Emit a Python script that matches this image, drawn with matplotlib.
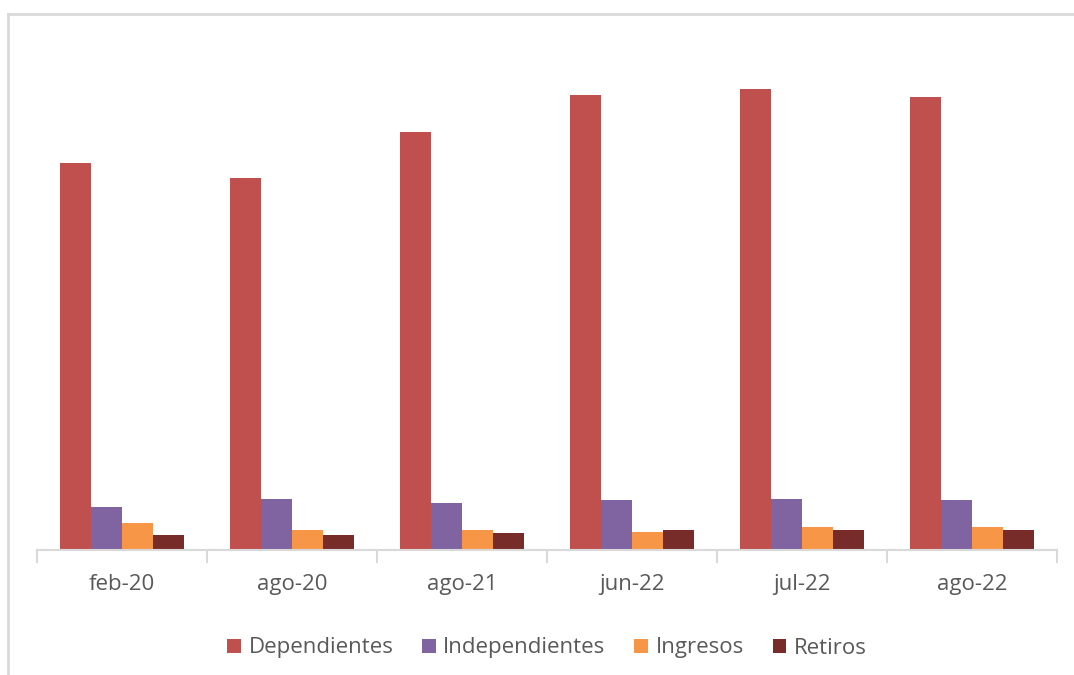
import matplotlib.pyplot as plt
import numpy as np
from matplotlib.lines import Line2D

plt.rcParams["font.family"] = ["Open Sans", "DejaVu Sans"]

categories     = ["feb-20", "ago-20", "ago-21", "jun-22", "jul-22", "ago-22"]
dependientes   = [387, 372, 418, 455, 461, 453]
independientes = [43, 51, 47, 50, 51, 50]
ingresos       = [27, 20, 20, 18, 23, 23]
retiros        = [15, 15, 17, 20, 20, 20]

series = [("Dependientes", dependientes, "#C0504D"),
          ("Independientes", independientes, "#8064A2"),
          ("Ingresos", ingresos, "#F79646"),
          ("Retiros", retiros, "#772C2A")]

fig = plt.figure(figsize=(10.74, 6.75), dpi=100)
ax = fig.add_axes([37 / 1074, 125 / 675, 1020 / 1074, 500 / 675])

x = np.arange(len(categories))
w = 0.182
for i, (name, vals, col) in enumerate(series):
    ax.bar(x + (i - 1.5) * w, vals, w, color=col, label=name)

ax.set_xlim(-0.5, len(categories) - 0.5)
ax.set_ylim(0, 500)
for s in ["top", "right", "left"]:
    ax.spines[s].set_visible(False)
ax.spines["bottom"].set_color("#D9D9D9")
ax.spines["bottom"].set_linewidth(1.5)
ax.set_yticks([])

ax.set_xticks(x)
ax.set_xticklabels(categories, fontsize=16, color="#595959")
ax.tick_params(axis="x", length=0, pad=17)
# category separators below the axis line
for b in np.arange(len(categories) + 1) - 0.5:
    ax.plot([b, b], [0, -12], color="#D9D9D9", lw=1.5, clip_on=False)

leg = ax.legend(loc="upper center", bbox_to_anchor=(0.5, -0.135), ncol=4,
                frameon=False, fontsize=16, handlelength=0.6, handleheight=0.6,
                columnspacing=1.3, handletextpad=0.35)
for t in leg.get_texts():
    t.set_color("#595959")

fig.add_artist(Line2D([8 / 1074, 8 / 1074], [0, 1 - 14 / 675],
                      color="#D9D9D9", lw=2, transform=fig.transFigure))
fig.add_artist(Line2D([8 / 1074, 1], [1 - 14 / 675, 1 - 14 / 675],
                      color="#D9D9D9", lw=2, transform=fig.transFigure))

fig.savefig("out.png", dpi=100)
